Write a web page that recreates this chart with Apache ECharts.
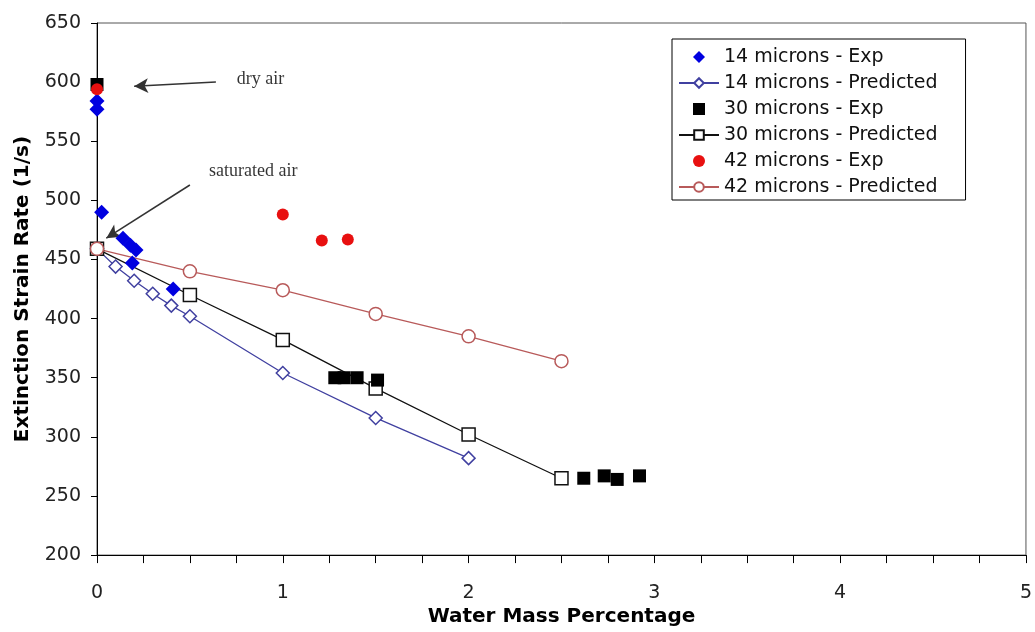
<!DOCTYPE html>
<html>
<head>
<meta charset="utf-8">
<script src="https://cdn.jsdelivr.net/npm/echarts@6/dist/echarts.min.js"></script>
<style>
html, body { margin: 0; padding: 0; background: #fff; }
#chartBox { width: 1035px; height: 632px; }
</style>
</head>
<body>
<div id="chartBox"></div>
<script>
var exp14X = [0, 0, 0.025, 0.14, 0.18, 0.21, 0.19, 0.41];
var exp14Y = [584, 577, 490, 468, 462, 458, 447, 425];
var pred14X = [0, 0.1, 0.2, 0.3, 0.4, 0.5, 1, 1.5, 2];
var pred14Y = [459, 444, 432, 421, 411, 402, 354, 316, 282];
var exp30X = [0, 1.28, 1.33, 1.40, 1.51, 2.62, 2.73, 2.80, 2.92];
var exp30Y = [598, 350, 350, 350, 348, 265, 267, 264, 267];
var pred30X = [0, 0.5, 1, 1.5, 2, 2.5];
var pred30Y = [459, 420, 382, 341, 302, 265];
var exp42X = [0, 1.0, 1.21, 1.35];
var exp42Y = [594, 488, 466, 467];
var pred42X = [0, 0.5, 1, 1.5, 2, 2.5];
var pred42Y = [459, 440, 424, 404, 385, 364];

var seriesNames = ['14 microns - Exp', '14 microns - Predicted', '30 microns - Exp',
    '30 microns - Predicted', '42 microns - Exp', '42 microns - Predicted'];

// annotation text and arrows (data coords)
var noteText = [[0.75, 602, 'dry air'], [0.6, 525, 'saturated air']];
var noteArrows = [[[0.64, 600], [0.2, 596.5]], [[0.5, 513], [0.05, 468]]];

// square path icons so the legend keeps their aspect
var iconDiamond = 'path://M5,0L10,5L5,10L0,5Z';
var iconSquare = 'path://M0,0L10,0L10,10L0,10Z';
var iconDot = 'path://M0,5a5,5 0 1,0 10,0a5,5 0 1,0 -10,0Z';

function pairs(xs, ys) {
    var out = [];
    for (var i = 0; i < xs.length; i++) {
        out.push([xs[i], ys[i]]);
    }
    return out;
}

function expSeries(name, xs, ys, symbol, size, color) {
    return {
        name: name,
        type: 'scatter',
        data: pairs(xs, ys),
        symbol: symbol,
        symbolSize: size,
        itemStyle: { color: color, opacity: 1 },
        z: 5
    };
}

function predSeries(name, xs, ys, symbol, size, color) {
    return {
        name: name,
        type: 'line',
        data: pairs(xs, ys),
        symbol: symbol,
        symbolSize: size,
        showAllSymbol: true,
        lineStyle: { color: color, width: 1.3 },
        itemStyle: { color: '#fff', borderColor: color, borderWidth: 1.5 },
        z: 3
    };
}

var lines = [];
for (var i = 0; i < noteArrows.length; i++) {
    lines.push([{ coord: noteArrows[i][0] }, { coord: noteArrows[i][1] }]);
}

var option = {
    animation: false,
    backgroundColor: '#fff',
    grid: {
        left: 97, top: 23, right: 4, bottom: 69,
        show: true, borderColor: '#555', borderWidth: 1
    },
    legend: {
        data: [
            { name: seriesNames[0], icon: iconDiamond },
            { name: seriesNames[1] },
            { name: seriesNames[2], icon: iconSquare },
            { name: seriesNames[3] },
            { name: seriesNames[4], icon: iconDot },
            { name: seriesNames[5] }
        ],
        symbolKeepAspect: true,
        orient: 'vertical',
        left: 672, top: 39,
        padding: [8, 28, 3, 6],
        itemWidth: 40, itemHeight: 12, itemGap: 6,
        borderColor: '#000', borderWidth: 1,
        backgroundColor: '#fff',
        textStyle: { fontFamily: 'DejaVu Sans', fontSize: 19, color: '#111', lineHeight: 20 }
    },
    xAxis: {
        type: 'value', min: 0, max: 5, interval: 1,
        name: 'Water Mass Percentage', nameLocation: 'middle', nameGap: 49,
        nameTextStyle: { fontFamily: 'DejaVu Sans', fontWeight: 'bold', fontSize: 20, color: '#000' },
        axisLine: { show: true, lineStyle: { color: '#000', width: 1 } },
        axisTick: { show: true, length: 8, lineStyle: { color: '#000' } },
        minorTick: { show: true, splitNumber: 4, length: 8, lineStyle: { color: '#000' } },
        axisLabel: { margin: 28, fontFamily: 'DejaVu Sans', fontSize: 19, color: '#222' },
        splitLine: { show: false }
    },
    yAxis: {
        type: 'value', min: 200, max: 650, interval: 50,
        name: 'Extinction Strain Rate (1/s)', nameLocation: 'middle', nameGap: 64,
        nameTextStyle: { fontFamily: 'DejaVu Sans', fontWeight: 'bold', fontSize: 20, color: '#000' },
        axisLine: { show: true, lineStyle: { color: '#000', width: 1 } },
        axisTick: { show: true, length: 6, lineStyle: { color: '#000' } },
        axisLabel: { margin: 16, fontFamily: 'DejaVu Sans', fontSize: 19, color: '#222' },
        splitLine: { show: false }
    },
    series: [
        predSeries(seriesNames[1], pred14X, pred14Y, 'diamond', 13, '#4040a0'),
        predSeries(seriesNames[3], pred30X, pred30Y, 'rect', 13, '#111'),
        predSeries(seriesNames[5], pred42X, pred42Y, 'circle', 13, '#b85a5a'),
        expSeries(seriesNames[0], exp14X, exp14Y, 'diamond', 15, '#0000e0'),
        expSeries(seriesNames[2], exp30X, exp30Y, 'rect', 13, '#000'),
        expSeries(seriesNames[4], exp42X, exp42Y, 'circle', 12, '#e81010'),
        {
            name: 'notes',
            type: 'scatter',
            silent: true,
            data: noteText,
            symbolSize: 1,
            itemStyle: { color: 'rgba(0,0,0,0)' },
            label: {
                show: true, position: 'right', distance: 0,
                formatter: function (p) { return p.value[2]; },
                fontFamily: 'Liberation Serif', fontSize: 18, color: '#000'
            },
            markLine: {
                silent: true,
                symbol: ['none', 'arrow'],
                symbolSize: [11, 14],
                label: { show: false },
                lineStyle: { color: '#333', width: 1.5, type: 'solid' },
                data: lines
            }
        }
    ]
};

var chart = echarts.init(document.getElementById('chartBox'));
chart.setOption(option);
</script>
</body>
</html>
